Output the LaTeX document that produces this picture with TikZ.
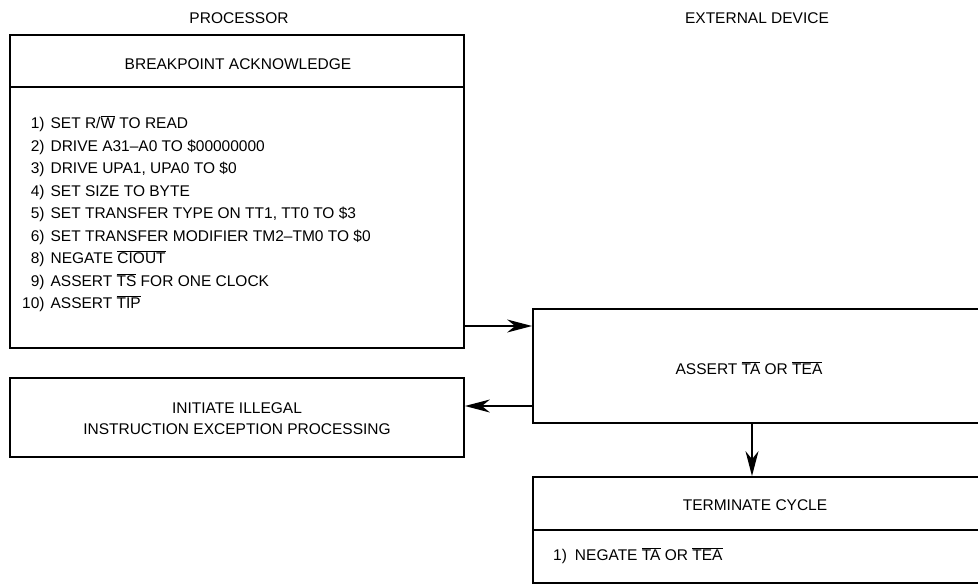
\documentclass[tikz,border=0pt]{standalone}
\usepackage{fontspec}
\setmainfont{Liberation Sans}
\usetikzlibrary{arrows.meta}
\newcommand\ovl[1]{\ensuremath{\overline{\mbox{#1}}}}
\begin{document}
\begin{tikzpicture}[x=1pt,y=-1pt,
  txt/.style={inner sep=0pt, font=\fontsize{15.5}{22.5}\selectfont},
  box/.style={draw, line width=1.8pt, inner sep=0pt},
  sep/.style={line width=1.8pt},
  arr/.style={line width=1.4pt, -{Stealth[length=25pt,width=13pt,inset=8pt]}}]
\useasboundingbox (0,0) rectangle (978,584);
% column titles
\node[txt] (proc) at (239,18) {PROCESSOR};
\node[txt] (ext) at (757,18) {EXTERNAL DEVICE};
% breakpoint acknowledge box
\node[box, minimum width=454pt, minimum height=313pt] (bpa) at (237,191.5) {};
\coordinate (s1) at (0,87);
\draw[sep] (bpa.west |- s1) -- (bpa.east |- s1);
\node[txt] (bpah) at (238,64) {BREAKPOINT ACKNOWLEDGE};
\node[txt, anchor=base west] (bpal) at (22,128.5) {%
  \begin{tabular}[t]{@{}r@{\hspace{6pt}}l@{}}
  1) & SET R/\ovl{W} TO READ\\
  2) & DRIVE A31–A0 TO \$00000000\\
  3) & DRIVE UPA1, UPA0 TO \$0\\
  4) & SET SIZE TO BYTE\\
  5) & SET TRANSFER TYPE ON TT1, TT0 TO \$3\\
  6) & SET TRANSFER MODIFIER TM2–TM0 TO \$0\\
  8) & NEGATE \ovl{CIOUT}\\
  9) & ASSERT \ovl{TS} FOR ONE CLOCK\\
  10) & ASSERT \ovl{TIP}
  \end{tabular}};
% illegal instruction box
\node[box, minimum width=454pt, minimum height=79pt] (ill) at (237,417.5) {};
\node[txt, align=center, font=\fontsize{15.5}{21}\selectfont] (illt) at (237,419) {INITIATE ILLEGAL\\INSTRUCTION EXCEPTION PROCESSING};
% assert box
\node[box, minimum width=452pt, minimum height=114pt] (ast) at (759,366) {};
\node[txt] (astt) at (749,368) {ASSERT \ovl{TA} OR \ovl{TEA}};
% terminate cycle box
\node[box, minimum width=452pt, minimum height=106pt] (term) at (759,530) {};
\coordinate (s2) at (0,530);
\draw[sep] (term.west |- s2) -- (term.east |- s2);
\node[txt] (termh) at (755,505) {TERMINATE CYCLE};
\node[txt, anchor=west] (terml) at (553,556) {1)\hspace{8pt}NEGATE \ovl{TA} OR \ovl{TEA}};
% connectors
\coordinate (y1) at (0,326);
\coordinate (y2) at (0,406);
\coordinate (x3) at (752,0);
\draw[arr] (bpa.east |- y1) -- (ast.west |- y1);
\draw[arr] (ast.west |- y2) -- (ill.east |- y2);
\draw[arr] (ast.south -| x3) -- (term.north -| x3);
\end{tikzpicture}
\end{document}
